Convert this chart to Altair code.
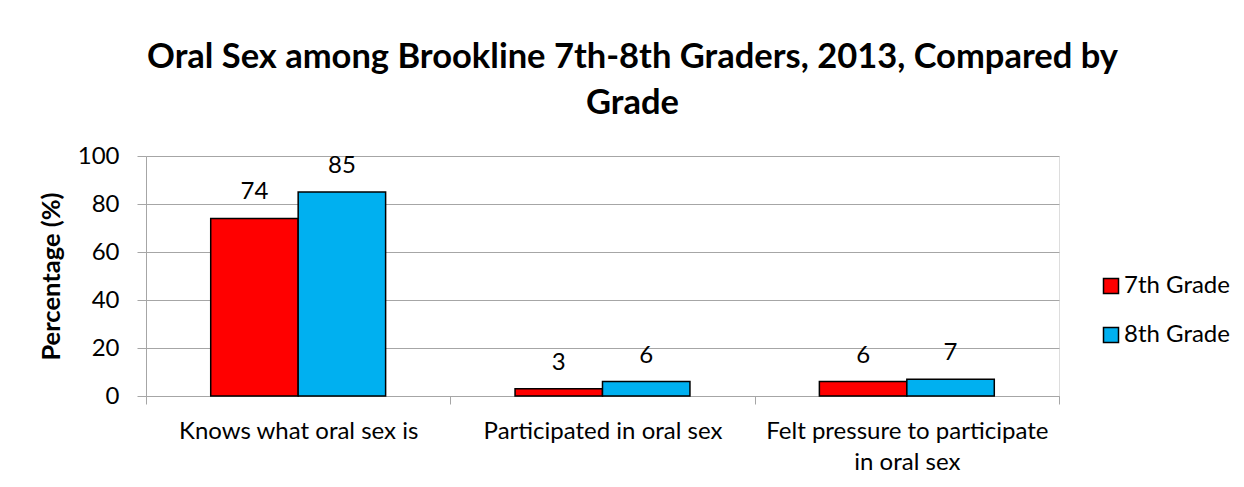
import altair as alt
import pandas as pd

categories = ["Knows what oral sex is", "Participated in oral sex", "Felt pressure to participate in oral sex"]
grades = ["7th Grade", "8th Grade"]
grade7 = [74, 3, 6]
grade8 = [85, 6, 7]
colors = ["#FF0000", "#00B0F0"]
y_ticks = [0, 20, 40, 60, 80, 100]

rows = []
for c, v7, v8 in zip(categories, grade7, grade8):
    rows.append({"category": c, "grade": grades[0], "value": v7})
    rows.append({"category": c, "grade": grades[1], "value": v8})
df = pd.DataFrame(rows)

FONT = "Lato"

x = alt.X("category:N", sort=categories, title=None,
          scale=alt.Scale(paddingInner=0, paddingOuter=0),
          axis=alt.Axis(labelAngle=0, labelFont=FONT, labelFontSize=24, labelColor="black",
                        labelExpr="datum.label == 'Felt pressure to participate in oral sex' ? ['Felt pressure to participate', 'in oral sex'] : datum.label",
                        labelLineHeight=31, labelPadding=15, labelLimit=0,
                        tickBand="extent", tickSize=8, tickColor="#A6A6A6",
                        domainColor="#A6A6A6", grid=False))
xo = alt.XOffset("grade:N", sort=grades, scale=alt.Scale(paddingInner=0, paddingOuter=0.74))
y = alt.Y("value:Q", title="Percentage (%)",
          scale=alt.Scale(domain=[0, 100], nice=False),
          axis=alt.Axis(values=y_ticks, labelFont=FONT, labelFontSize=24, labelColor="black",
                        labelPadding=18, tickSize=9, tickColor="#A6A6A6",
                        domainColor="#A6A6A6", gridColor="#A6A6A6",
                        titleFont=FONT, titleFontSize=25.5, titleFontWeight="bold", titleColor="black",
                        titlePadding=13))
color = alt.Color("grade:N", sort=grades,
                  scale=alt.Scale(domain=grades, range=colors),
                  legend=alt.Legend(title=None, orient="none", legendX=953, legendY=118,
                                    symbolType="square", symbolSize=225,
                                    symbolStrokeColor="black", symbolStrokeWidth=1.5,
                                    labelFont=FONT, labelFontSize=24, labelColor="black",
                                    labelOffset=1, rowPadding=25))

bars = alt.Chart(df).mark_bar(stroke="black", strokeWidth=1.5).encode(
    x=x, xOffset=xo, y=y, color=color)

labels = alt.Chart(df).mark_text(font=FONT, fontSize=24, color="black",
                                 baseline="alphabetic", dy=-19).encode(
    x=alt.X("category:N", sort=categories),
    xOffset=alt.XOffset("grade:N", sort=grades),
    y=alt.Y("value:Q"),
    text=alt.Text("value:Q"))

chart = alt.layer(bars, labels).properties(
    width=913, height=240,
    title=alt.TitleParams(
        text=["Oral Sex among Brookline 7th-8th Graders, 2013, Compared by", "Grade"],
        font=FONT, fontSize=34.5, fontWeight="bold", color="black",
        anchor="middle", frame="group", dx=30, offset=23, lineHeight=46),
    autosize=alt.AutoSizeParams(type="none"),
    padding={"left": 138, "top": 148, "right": 177, "bottom": 83},
).configure_view(stroke=None).configure(background="white")

chart.save("out.html", embed_options={"renderer": "svg", "actions": False})
